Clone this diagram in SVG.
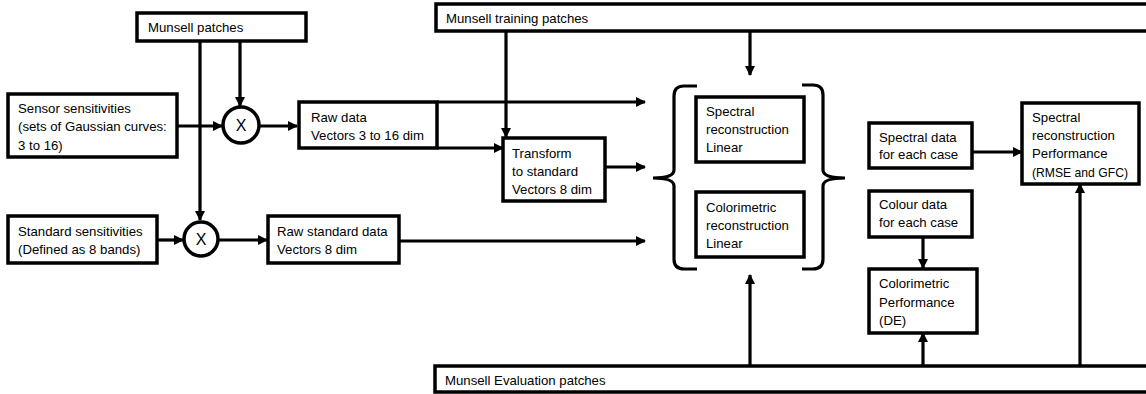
<svg xmlns="http://www.w3.org/2000/svg" width="1146" height="394" viewBox="0 0 1146 394">
<style>
.box{fill:#fff;stroke:#000;stroke-width:3.5}
.ln{fill:none;stroke:#000;stroke-width:3.2}
.arr{fill:none;stroke:#000;stroke-width:3.2;marker-end:url(#ah)}
text{font-family:"Liberation Sans",Arial,sans-serif;font-size:13.2px;fill:#000}
.x{font-size:16px;text-anchor:middle}
</style>
<defs>
<marker id="ah" markerWidth="10" markerHeight="10" refX="9" refY="5" orient="auto" markerUnits="userSpaceOnUse">
<path d="M0,0 L10,5 L0,10 Z" fill="#000"/>
</marker>
</defs>
<rect width="1146" height="394" fill="#fff"/>
<g id="connectors">
<path class="arr" d="M240,41 V106"/>
<path class="arr" d="M200,41 V220"/>
<path class="arr" d="M177,126 H222"/>
<path class="arr" d="M259,126 H297"/>
<path class="arr" d="M157,240 H183"/>
<path class="arr" d="M217,240 H267"/>
<path class="arr" d="M437,102 H645"/>
<path class="arr" d="M437,148 H503"/>
<path class="arr" d="M506,31 V137"/>
<path class="arr" d="M750,31 V75"/>
<path class="arr" d="M605,167 H645"/>
<path class="arr" d="M399,241 H645"/>
<path class="arr" d="M750,366 V275"/>
<path class="arr" d="M972,152 H1022"/>
<path class="arr" d="M923,237 V268"/>
<path class="arr" d="M923,366 V333"/>
<path class="arr" d="M1080,366 V184"/>
<path class="ln" d="M697,86 H684 Q674,86 674,96 V170 Q674,178 653,178 Q674,178 674,186 V259 Q674,269 684,269 H697"/>
<path class="ln" d="M802,85 H813 Q823,85 823,95 V170 Q823,178 845,178 Q823,178 823,186 V259 Q823,269 813,269 H802"/>
</g>
<g id="munsell-patches">
<rect class="box" x="137" y="13" width="169" height="28"/>
<text x="148" y="32">Munsell patches</text>
</g>
<g id="sensor-sensitivities">
<rect class="box" x="8" y="94" width="169" height="63"/>
<text x="18" y="113">Sensor sensitivities</text>
<text x="18" y="131">(sets of Gaussian curves:</text>
<text x="18" y="150">3 to 16)</text>
</g>
<g id="mult1">
<circle cx="241" cy="125" r="18" fill="#fff" stroke="#000" stroke-width="3.5"/>
<text class="x" x="241" y="131">X</text>
</g>
<g id="standard-sensitivities">
<rect class="box" x="8" y="216" width="149" height="47"/>
<text x="18" y="236">Standard sensitivities</text>
<text x="18" y="254">(Defined as 8 bands)</text>
</g>
<g id="mult2">
<circle cx="201" cy="239" r="17" fill="#fff" stroke="#000" stroke-width="3.5"/>
<text class="x" x="201" y="245">X</text>
</g>
<g id="raw-data">
<rect class="box" x="299" y="102" width="138" height="46"/>
<text x="311" y="122">Raw data</text>
<text x="311" y="140">Vectors 3 to 16 dim</text>
</g>
<g id="raw-standard-data">
<rect class="box" x="268" y="216" width="131" height="47"/>
<text x="277" y="236">Raw standard data</text>
<text x="277" y="254">Vectors 8 dim</text>
</g>
<g id="munsell-training">
<rect class="box" x="436" y="4" width="716" height="27"/>
<text x="446" y="23">Munsell training patches</text>
</g>
<g id="transform">
<rect class="box" x="503" y="138" width="102" height="63"/>
<text x="512" y="158">Transform</text>
<text x="512" y="176">to standard</text>
<text x="512" y="194">Vectors 8 dim</text>
</g>
<g id="spectral-reconstruction">
<rect class="box" x="696" y="97" width="108" height="65"/>
<text x="706" y="116">Spectral</text>
<text x="706" y="134">reconstruction</text>
<text x="706" y="152">Linear</text>
</g>
<g id="colorimetric-reconstruction">
<rect class="box" x="696" y="192" width="108" height="65"/>
<text x="706" y="212">Colorimetric</text>
<text x="706" y="230">reconstruction</text>
<text x="706" y="248">Linear</text>
</g>
<g id="spectral-data">
<rect class="box" x="869" y="123" width="103" height="45"/>
<text x="879" y="142">Spectral data</text>
<text x="879" y="159">for each case</text>
</g>
<g id="colour-data">
<rect class="box" x="869" y="191" width="103" height="46"/>
<text x="879" y="209">Colour data</text>
<text x="879" y="227">for each case</text>
</g>
<g id="colorimetric-performance">
<rect class="box" x="869" y="269" width="108" height="64"/>
<text x="879" y="288">Colorimetric</text>
<text x="879" y="307">Performance</text>
<text x="879" y="325">(DE)</text>
</g>
<g id="spectral-performance">
<rect class="box" x="1022" y="103" width="117" height="81"/>
<text x="1032" y="122">Spectral</text>
<text x="1032" y="140">reconstruction</text>
<text x="1032" y="158">Performance</text>
<text x="1032" y="177" textLength="96" lengthAdjust="spacingAndGlyphs">(RMSE and GFC)</text>
</g>
<g id="munsell-evaluation">
<rect class="box" x="435" y="366" width="717" height="26"/>
<text x="445" y="385">Munsell Evaluation patches</text>
</g>
</svg>
